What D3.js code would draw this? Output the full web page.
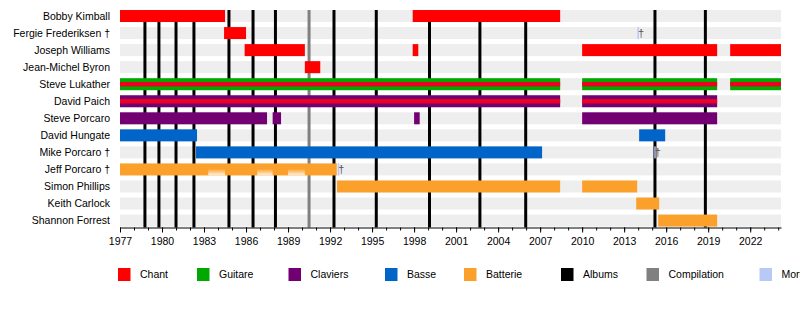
<!DOCTYPE html>
<html><head><meta charset="utf-8">
<script src="https://cdn.jsdelivr.net/npm/d3@7"></script>
<style>body{margin:0;background:#fff;overflow:hidden} svg{display:block} text{font-family:"Liberation Sans",Arial,sans-serif}</style>
</head><body><svg id="c" width="800" height="336"></svg>
<script>
// ---------- DATA ----------
const members = ["Bobby Kimball","Fergie Frederiksen †","Joseph Williams","Jean-Michel Byron","Steve Lukather","David Paich","Steve Porcaro","David Hungate","Mike Porcaro †","Jeff Porcaro †","Simon Phillips","Keith Carlock","Shannon Forrest"];
const START = 1977, END = 2024.2;
const chantPeriods = [
  ["Bobby Kimball",1977,1984.5],["Bobby Kimball",1997.9,2008.43],
  ["Fergie Frederiksen †",1984.43,1986.0],
  ["Joseph Williams",1985.9,1990.2],["Joseph Williams",1997.9,1998.3],["Joseph Williams",2010.0,2019.64],["Joseph Williams",2020.57,END],
  ["Jean-Michel Byron",1990.2,1991.3]
];
const guitarePeriods = [["Steve Lukather",1977,2008.43],["Steve Lukather",2010.0,2019.64],["Steve Lukather",2020.57,END]];
const chantStripePeriods = [["Steve Lukather",1977,2008.43],["Steve Lukather",2010.0,2019.64],["Steve Lukather",2020.57,END],
  ["David Paich",1977,2008.43],["David Paich",2010.0,2019.64]];
const clavierPeriods = [["David Paich",1977,2008.43],["David Paich",2010.0,2019.64],
  ["Steve Porcaro",1977,1987.5],["Steve Porcaro",1987.9,1988.5],["Steve Porcaro",1998.0,1998.4],["Steve Porcaro",2010.0,2019.64]];
const bassePeriods = [["David Hungate",1977,1982.5],["David Hungate",2014.07,2015.93],["Mike Porcaro †",1982.43,2007.14]];
const batteriePeriods = [["Jeff Porcaro †",1977,1992.48],["Simon Phillips",1992.5,2008.43],["Simon Phillips",2010.0,2013.93],
  ["Keith Carlock",2013.86,2015.5],["Shannon Forrest",2015.43,2019.64]];
const batterieFades = [["Jeff Porcaro †",1983.3,1984.5],["Jeff Porcaro †",1986.8,1987.9],["Jeff Porcaro †",1989.0,1990.2]];
const albums = [1978.78,1979.78,1981.0,1982.28,1984.78,1986.5,1988.1,1992.28,1995.3,1999.1,2002.7,2005.97,2015.2,2018.8];
const compilations = [1990.5];
const deaths = [["Fergie Frederiksen †",2013.95],["Mike Porcaro †",2015.15],["Jeff Porcaro †",1992.55]];
const tickYears = d3.range(1977, 2023, 3);
const minorYears = d3.range(1977, 2025, 1);
const legendLabels = ["Chant","Guitare","Claviers","Basse","Batterie","Albums","Compilation","Mort"];
// ---------- STYLE / LAYOUT ----------
const colors = {Chant:"#ff0000",Guitare:"#00a800",Claviers:"#720073",Basse:"#0064c8",Batterie:"#fba12b",Albums:"#000000",Compilation:"#808080",Mort:"#b9c9f6"};
const legendX = [118,197,288.5,385,464,561,646.5,759.5];

const svg = d3.select("#c");
const x = d3.scaleLinear().domain([START, END]).range([120, 781]);
const y = d3.scaleBand().domain(members).range([7.5, 229.1]).paddingInner(0.296).paddingOuter(0.148);
const bw = y.bandwidth();
const axisY = 227.5;

// background bands
svg.append("g").selectAll("rect").data(members).join("rect")
  .attr("x", x(START)).attr("width", x(END)-x(START))
  .attr("y", d=>y(d)).attr("height", bw).attr("fill","#eeeeee");

// album / compilation lines
svg.append("g").selectAll("line").data(albums).join("line")
  .attr("x1",d=>x(d)).attr("x2",d=>x(d)).attr("y1",y(members[0])).attr("y2",axisY)
  .attr("stroke",colors.Albums).attr("stroke-width",3);
svg.append("g").selectAll("line").data(compilations).join("line")
  .attr("x1",d=>x(d)).attr("x2",d=>x(d)).attr("y1",y(members[0])).attr("y2",axisY)
  .attr("stroke",colors.Compilation).attr("stroke-width",3);

function bars(data, color, h, off){
  svg.append("g").selectAll("rect").data(data).join("rect")
    .attr("x",d=>x(d[1])).attr("width",d=>x(d[2])-x(d[1]))
    .attr("y",d=>y(d[0])+off).attr("height",h).attr("fill",color);
}
bars(chantPeriods, colors.Chant, bw, 0);
bars(guitarePeriods, colors.Guitare, bw, 0);
bars(clavierPeriods, colors.Claviers, bw, 0);
bars(bassePeriods, colors.Basse, bw, 0);
bars(batteriePeriods, colors.Batterie, bw, 0);
bars(chantStripePeriods, "#ee0022", 4.4, (bw-4.4)/2);

// fades on Jeff's bar
const defs = svg.append("defs");
const g1 = defs.append("linearGradient").attr("id","fade").attr("x1",0).attr("x2",0).attr("y1",0).attr("y2",1);
g1.append("stop").attr("offset","0%").attr("stop-color",colors.Batterie).attr("stop-opacity",1);
g1.append("stop").attr("offset","100%").attr("stop-color","#fff4e4").attr("stop-opacity",1);
svg.append("g").selectAll("rect").data(batterieFades).join("rect")
  .attr("x",d=>x(d[1])).attr("width",d=>x(d[2])-x(d[1]))
  .attr("y",d=>y(d[0])+bw*0.45).attr("height",bw*0.55).attr("fill","url(#fade)");

// deaths
const dg = svg.append("g").selectAll("g").data(deaths).join("g");
dg.append("rect").attr("x",d=>x(d[1])).attr("width",1.5).attr("y",d=>y(d[0])).attr("height",bw).attr("fill",colors.Mort);
dg.append("text").attr("x",d=>x(d[1])+0.5).attr("y",d=>y(d[0])+bw/2).attr("dy","0.36em")
  .attr("font-size",11).attr("fill","#555").text("†");

// member labels
svg.append("g").selectAll("text").data(members).join("text")
  .attr("x",110).attr("y",d=>y(d)+bw/2).attr("dy","0.35em").attr("text-anchor","end")
  .attr("font-size",10.5).attr("fill","#000").text(d=>d);

// axis
const ax = svg.append("g").attr("transform",`translate(0,${axisY})`)
  .call(d3.axisBottom(x).tickValues(tickYears).tickFormat(d3.format("d")).tickSize(5).tickSizeOuter(0));
ax.select(".domain").attr("stroke","#000");
ax.selectAll("text").attr("font-size",10.5).attr("fill","#000").attr("dy","0.9em").attr("font-family","Liberation Sans, Arial, sans-serif");
const mx = svg.append("g").attr("transform",`translate(0,${axisY})`)
  .call(d3.axisBottom(x).tickValues(minorYears).tickFormat("").tickSize(3).tickSizeOuter(0));
mx.select(".domain").remove();

// legend
const lg = svg.append("g").selectAll("g").data(legendLabels).join("g")
  .attr("transform",(d,i)=>`translate(${legendX[i]},268)`);
lg.append("rect").attr("width",12.5).attr("height",13).attr("fill",d=>colors[d]);
lg.append("text").attr("x",22).attr("y",6.5).attr("dy","0.35em").attr("font-size",10.5).attr("fill","#000").text(d=>d);
</script></body></html>
